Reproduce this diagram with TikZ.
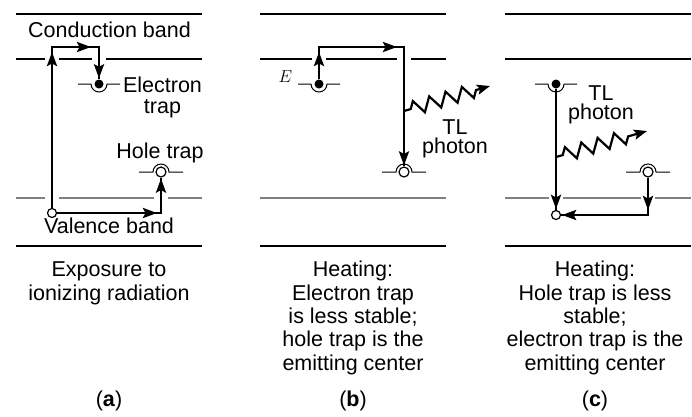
\documentclass[tikz,border=0pt]{standalone}
\usepackage{fontspec}
\setmainfont{Liberation Sans}
\definecolor{bandgray}{RGB}{128, 128, 128}
\usepackage{tikz}
\usetikzlibrary{arrows.meta, positioning, calc, decorations.pathmorphing}
\pgfdeclarelayer{bands}
\pgfdeclarelayer{transits}
\pgfsetlayers{bands,transits,main}
\tikzset{
  bandline/.style={line width=1.3pt},
  lowband/.style={line width=1.3pt, draw=bandgray},
  trapline/.style={line width=1pt},
  transit/.style={line width=2.6pt, preaction={draw=white, line width=14pt}},
  transittip/.style={line width=2.6pt, -{Stealth[length=14pt, width=10pt, inset=2.5pt]}, shorten >=#1},
  transittip/.default=1pt,
  photon/.style={line width=2.2pt, -{Stealth[length=13pt, width=10pt, inset=2.5pt]}, decorate,
    decoration={zigzag, amplitude=7pt, segment length=17pt, pre length=7pt, post length=14pt}},
  edot/.style={circle, fill, inner sep=0pt, minimum size=9pt},
  hdot/.style={circle, draw, fill=white, line width=1.2pt, inner sep=0pt, minimum size=10pt},
  vdot/.style={hdot, minimum size=9pt}
}

\begin{document}
\begin{tikzpicture}[x=1pt, y=-1pt, font=\fontsize{21.5}{23.3}\selectfont]
  \useasboundingbox (0,0) rectangle (692,416);

  \node[vdot] (vala) at (52,213) {};
  \node[edot] (etrapa) at (99,84) {};
  \node[hdot] (htrapa) at (161,172) {};
  \coordinate (upa) at (52,47);
  \coordinate (overa) at (99,47);
  \coordinate (runa) at (161,213);

  \node[edot] (etrapb) at (319,84) {};
  \node[hdot] (htrapb) at (404,172) {};
  \coordinate (upb) at (319,47);
  \coordinate (overb) at (404,47);
  \coordinate (photb) at (404,111);
  \coordinate (tipb) at (490,86);

  \node[edot] (etrapc) at (556,84) {};
  \node[vdot] (valc) at (556,215) {};
  \node[hdot] (htrapc) at (648,172) {};
  \coordinate (downc) at (648,215);
  \coordinate (photc) at (556,157);
  \coordinate (tipc) at (647,131);

  \begin{pgfonlayer}{bands}
    \foreach \x in {16,260,505} {
      \draw[bandline] (\x,14) -- ++(186,0);
      \draw[bandline] (\x,59) -- ++(186,0);
      \draw[lowband] (\x,198) -- ++(186,0);
      \draw[bandline] (\x,246) -- ++(186,0);
    }
  \end{pgfonlayer}

  \begin{pgfonlayer}{transits}
    \draw[transit] (vala) -- (upa) -- (overa) -- (etrapa);
    \draw[transit] (vala) -- (runa) -- (htrapa);
    \draw[transittip=5pt] (vala) -- (upa);
    \draw[transittip=8pt] (upa) -- (overa);
    \draw[transittip] (overa) -- (etrapa);
    \draw[transittip=4pt] (vala) -- (runa);
    \draw[transittip] (runa) -- (htrapa);

    \draw[transit] (etrapb) -- (upb) -- (overb) -- (htrapb);
    \draw[transittip=5pt] (etrapb) -- (upb);
    \draw[transittip=7pt] (upb) -- (overb);
    \draw[transittip] (overb) -- (htrapb);

    \draw[transit] (etrapc) -- (valc);
    \draw[transit] (htrapc) -- (downc) -- (valc);
    \draw[transittip] (etrapc) -- (valc);
    \draw[transittip=5pt] (htrapc) -- (downc);
    \draw[transittip] (downc) -- (valc);
  \end{pgfonlayer}

  \draw[photon] (photb) -- (tipb);
  \draw[photon] (photc) -- (tipc);

  \foreach \n in {etrapa,etrapb,etrapc}
    \draw[trapline] ([xshift=-21pt]\n.center) -- ++(13,0) arc[start angle=180, end angle=360, radius=8pt] -- ++(13,0);
  \foreach \n in {htrapa,htrapb,htrapc}
    \draw[trapline] ([xshift=-22pt]\n.center) -- ++(14,0) arc[start angle=180, end angle=0, radius=8pt] -- ++(14,0);

  \node[anchor=base] (cbandlab) at (109.5,37) {Conduction band};
  \node[anchor=base] (vbandlab) at (109,233) {Valence band};
  \node[anchor=base, align=center] (etraplab) at (162.5,113) {Electron\\[-3pt]trap};
  \node[anchor=base] (htraplab) at (160,158) {Hole trap};
  \node[anchor=base] (elab) at (285.5,82) {\fontsize{17}{20}\selectfont$E$};
  \node[anchor=base, align=center] (photlabb) at (455,153.5) {TL\\[-4pt]photon};
  \node[anchor=base, align=center] (photlabc) at (601,119.5) {TL\\[-4pt]photon};

  \node[anchor=base, align=center] (capa) at (109,300) {Exposure to\\ionizing radiation};
  \node[anchor=base, align=center] (capb) at (353,370) {Heating:\\Electron trap\\is less stable;\\hole trap is the\\emitting center};
  \node[anchor=base, align=center] (capc) at (595,370) {Heating:\\Hole trap is less\\stable;\\electron trap is the\\emitting center};
  \node[anchor=base] (laba) at (109,406) {(\textbf{a})};
  \node[anchor=base] (labb) at (353,406) {(\textbf{b})};
  \node[anchor=base] (labc) at (595,406) {(\textbf{c})};
\end{tikzpicture}
\end{document}
